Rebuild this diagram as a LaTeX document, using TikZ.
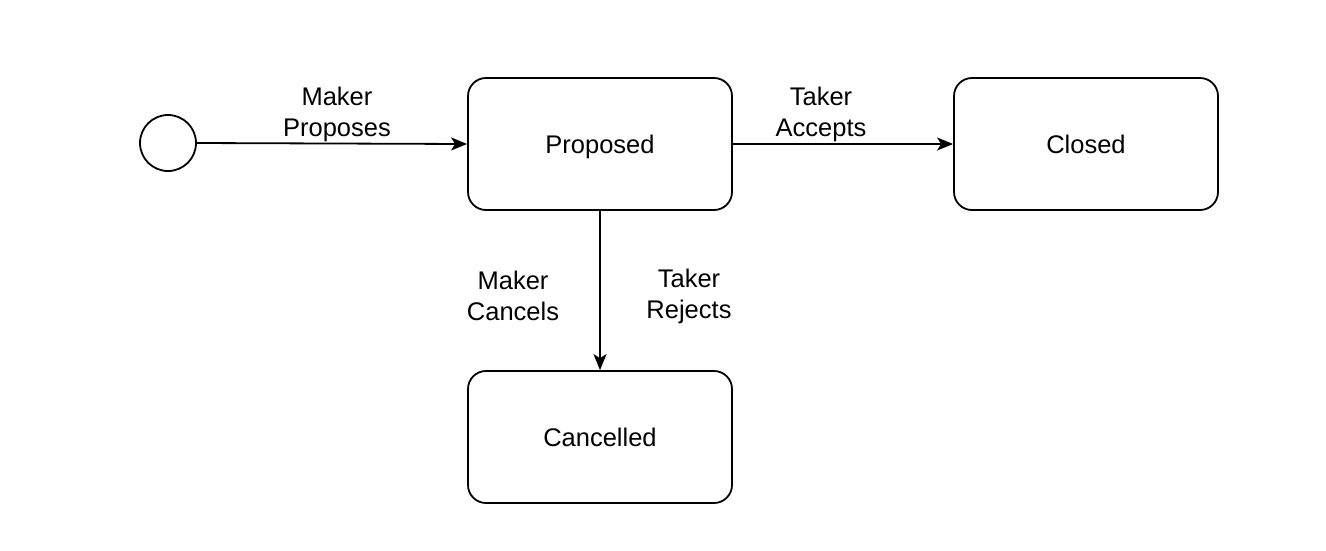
\documentclass[tikz,border=0pt]{standalone}
\usepackage{fontspec}
\setmainfont{Liberation Sans}
\usetikzlibrary{arrows.meta}
\begin{document}
\begin{tikzpicture}[x=1pt,y=-1pt,
  state/.style={draw, line width=1.8pt, rounded corners=18pt, minimum width=264pt, minimum height=132pt, inner sep=0pt, text depth=0pt, font=\fontsize{25.5}{31}\selectfont},
  lbl/.style={align=center, inner sep=0pt, font=\fontsize{25.5}{31}\selectfont},
  conn/.style={line width=1.8pt, -{Stealth[length=16pt,width=13pt,inset=4pt]}}]
\useasboundingbox (0,0) rectangle (1326,550);
\node[draw, circle, line width=1.8pt, minimum size=56pt, inner sep=0pt] (start) at (168,143) {};
\node[state] (proposed) at (600,144) {Proposed};
\node[state] (closed) at (1086,144) {Closed};
\node[state] (cancelled) at (600,437) {Cancelled};
\draw[conn] (start.east) -- (proposed.west);
\draw[conn] (proposed.east) -- (closed.west);
\draw[conn] (proposed.south) -- (cancelled.north);
\node[lbl] (l1) at (337,114) {Maker\\Proposes};
\node[lbl] (l2) at (821,114) {Taker\\Accepts};
\node[lbl] (l3) at (513,296) {Maker\\Cancels};
\node[lbl] (l4) at (689,296) {Taker\\Rejects};
\end{tikzpicture}
\end{document}
